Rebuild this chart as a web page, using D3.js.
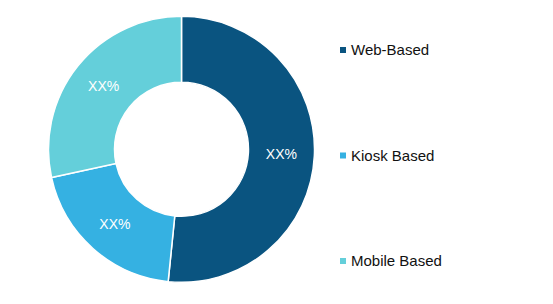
<!DOCTYPE html>
<html>
<head>
<meta charset="utf-8">
<script src="https://cdn.jsdelivr.net/npm/d3@7"></script>
<style>
  html, body { margin: 0; padding: 0; background: #fff; }
  svg { display: block; }
</style>
</head>
<body>
<div id="chart"></div>
<script>
const categories = ["Web-Based", "Kiosk Based", "Mobile Based"]
const shares = [51.6, 20.0, 28.4]
const labels = ["XX%", "XX%", "XX%"]
const colors = ["#0a5480", "#35b1e2", "#64cfda"]

const width = 553, height = 304
const cx = 181.5, cy = 149.3
const outerR = 133, innerR = 67

const svg = d3.select("#chart").append("svg")
    .attr("width", width)
    .attr("height", height)

const color = d3.scaleOrdinal(categories, colors)

const pie = d3.pie().sort(null).value(d => d.v)
const arcs = pie(categories.map((c, i) => ({ c, v: shares[i], l: labels[i] })))
const arc = d3.arc().innerRadius(innerR).outerRadius(outerR)

const g = svg.append("g").attr("transform", `translate(${cx},${cy})`)

g.selectAll("path")
    .data(arcs)
    .join("path")
    .attr("d", arc)
    .attr("fill", d => color(d.data.c))
    .attr("stroke", "#fff")
    .attr("stroke-width", 1.5)

g.selectAll("text")
    .data(arcs)
    .join("text")
    .attr("transform", d => `translate(${arc.centroid(d)})`)
    .attr("text-anchor", "middle")
    .attr("dy", "0.35em")
    .attr("fill", "#fff")
    .style("font-family", "'Liberation Sans', Arial, sans-serif")
    .style("font-size", "14px")
    .text(d => d.data.l)

// legend
const legendY = d3.scalePoint(categories, [50, 261])
const legend = svg.append("g")
    .selectAll("g")
    .data(categories)
    .join("g")
    .attr("transform", d => `translate(340,${legendY(d)})`)

legend.append("rect")
    .attr("x", 0)
    .attr("y", -3)
    .attr("width", 6)
    .attr("height", 6)
    .attr("fill", d => color(d))

legend.append("text")
    .attr("x", 11)
    .attr("dy", "0.35em")
    .attr("fill", "#111")
    .style("font-family", "'Liberation Sans', Arial, sans-serif")
    .style("font-size", "15px")
    .text(d => d)
</script>
</body>
</html>
